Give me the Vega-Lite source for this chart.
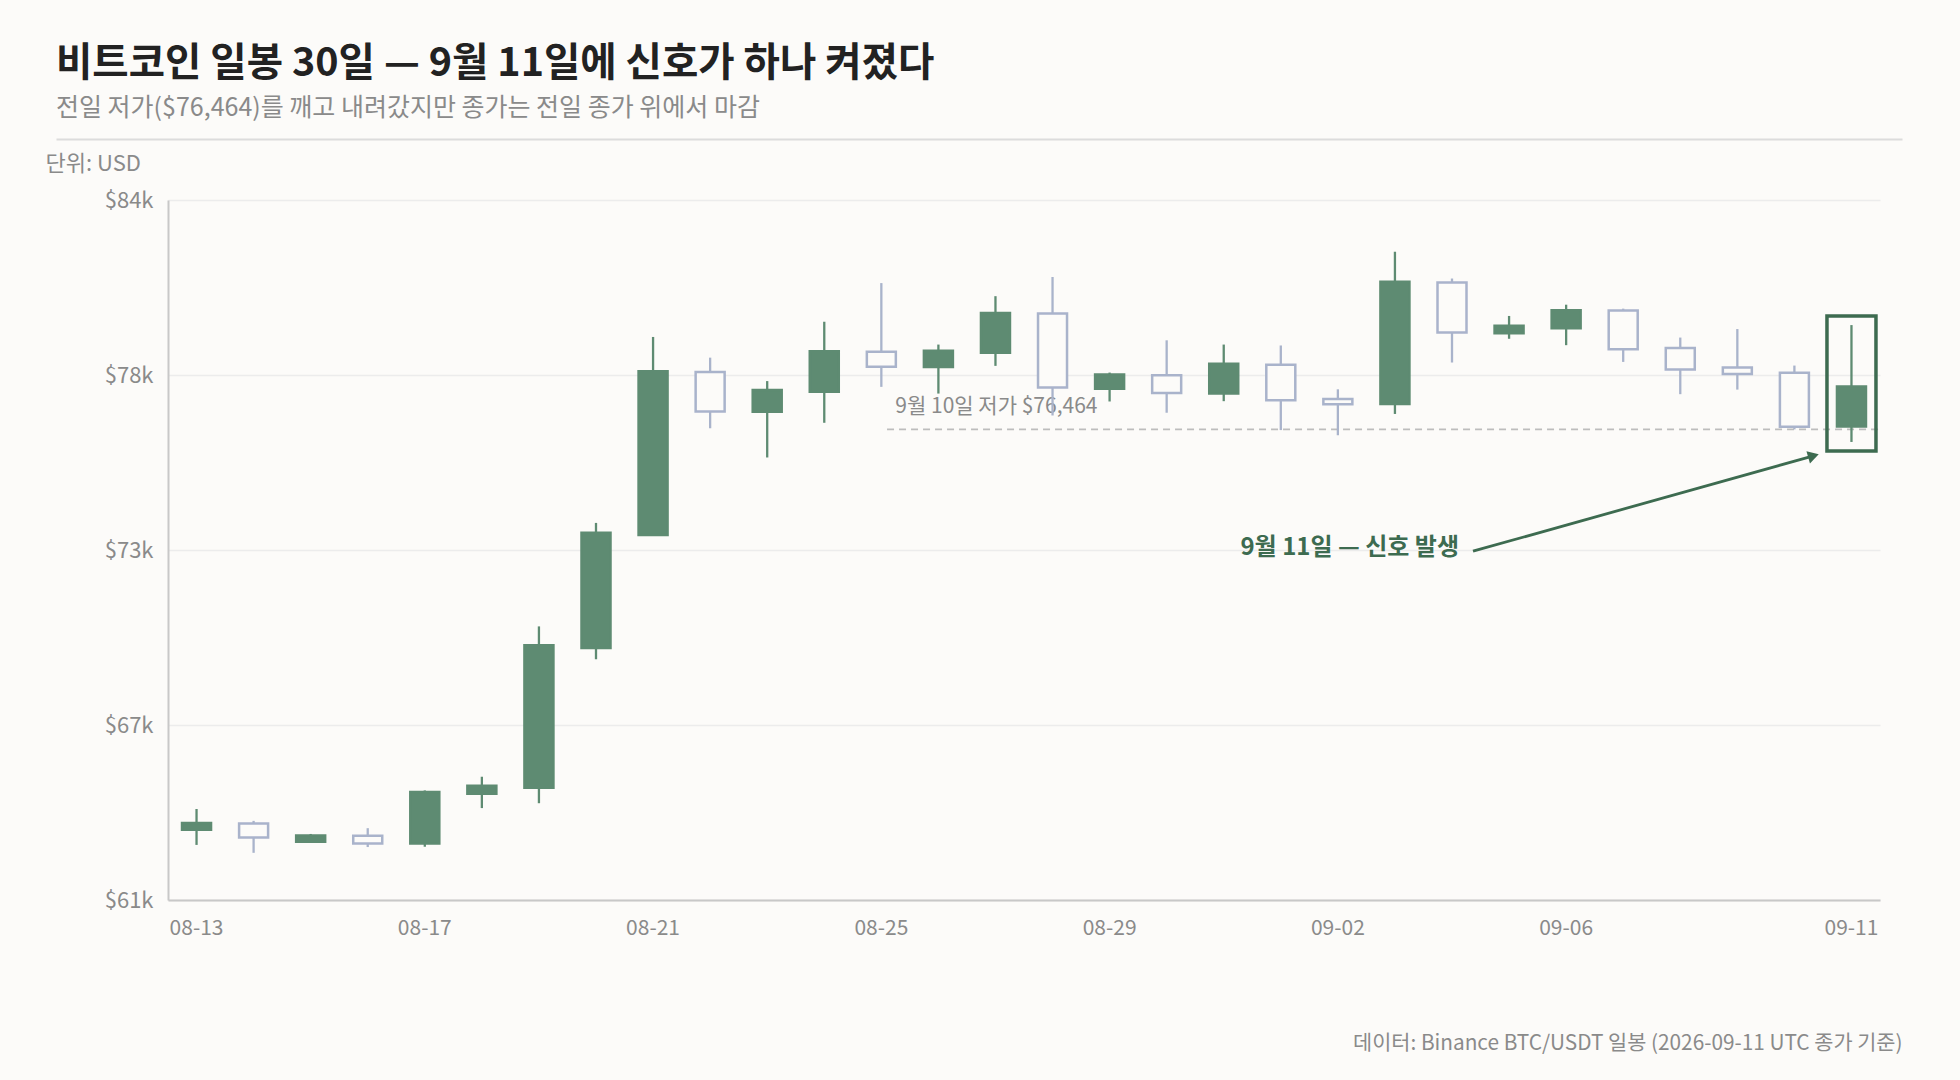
{
  "$schema": "https://vega.github.io/schema/vega-lite/v6.json",
  "background": "#fcfbf9",
  "autosize": {"type": "none"},
  "padding": {"left": 168, "top": 200, "right": 80, "bottom": 180},
  "width": 1712,
  "height": 700,
  "title": {
    "text": "비트코인 일봉 30일 — 9월 11일에 신호가 하나 켜졌다",
    "subtitle": "전일 저가($76,464)를 깨고 내려갔지만 종가는 전일 종가 위에서 마감",
    "anchor": "start",
    "frame": "group",
    "dx": -112,
    "offset": 17,
    "fontSize": 39.5,
    "fontWeight": "bold",
    "color": "#222222",
    "subtitleFontSize": 25,
    "subtitleColor": "#8a8a8a",
    "subtitlePadding": 11.75
  },
  "datasets": {
    "candles": [
      {"date": "08-13", "open": 63310, "high": 63990, "low": 62810, "close": 63530},
      {"date": "08-14", "open": 63510, "high": 63600, "low": 62550, "close": 63050},
      {"date": "08-15", "open": 62910, "high": 63170, "low": 62890, "close": 63120},
      {"date": "08-16", "open": 63110, "high": 63360, "low": 62740, "close": 62860},
      {"date": "08-17", "open": 62860, "high": 64600, "low": 62750, "close": 64550},
      {"date": "08-18", "open": 64490, "high": 65050, "low": 64020, "close": 64750},
      {"date": "08-19", "open": 64690, "high": 69990, "low": 64180, "close": 69370},
      {"date": "08-20", "open": 69280, "high": 73390, "low": 68910, "close": 73070},
      {"date": "08-21", "open": 72990, "high": 79500, "low": 72960, "close": 78370},
      {"date": "08-22", "open": 78350, "high": 78820, "low": 76500, "close": 77050},
      {"date": "08-23", "open": 77040, "high": 78050, "low": 75540, "close": 77760},
      {"date": "08-24", "open": 77700, "high": 80000, "low": 76680, "close": 79030},
      {"date": "08-25", "open": 79010, "high": 81270, "low": 77860, "close": 78520},
      {"date": "08-26", "open": 78510, "high": 79250, "low": 77640, "close": 79050},
      {"date": "08-27", "open": 78980, "high": 80840, "low": 78550, "close": 80290},
      {"date": "08-28", "open": 80270, "high": 81470, "low": 76920, "close": 77840},
      {"date": "08-29", "open": 77800, "high": 78330, "low": 77380, "close": 78270},
      {"date": "08-30", "open": 78240, "high": 79390, "low": 77010, "close": 77660},
      {"date": "08-31", "open": 77640, "high": 79250, "low": 77390, "close": 78620},
      {"date": "09-01", "open": 78590, "high": 79220, "low": 76440, "close": 77420},
      {"date": "09-02", "open": 77460, "high": 77780, "low": 76270, "close": 77290},
      {"date": "09-03", "open": 77300, "high": 82300, "low": 76970, "close": 81310},
      {"date": "09-04", "open": 81290, "high": 81420, "low": 78660, "close": 79650},
      {"date": "09-05", "open": 79620, "high": 80190, "low": 79440, "close": 79870},
      {"date": "09-06", "open": 79790, "high": 80560, "low": 79230, "close": 80380},
      {"date": "09-07", "open": 80370, "high": 80430, "low": 78680, "close": 79100},
      {"date": "09-08", "open": 79140, "high": 79480, "low": 77620, "close": 78430},
      {"date": "09-09", "open": 78500, "high": 79760, "low": 77770, "close": 78280},
      {"date": "09-10", "open": 78320, "high": 78560, "low": 76464, "close": 76550},
      {"date": "09-11", "open": 76560, "high": 79890, "low": 76050, "close": 77870}
    ],
    "prevlow": [
      {"date": "08-25", "end": "09-11", "price": 76464, "label": "9월 10일 저가 $76,464"}
    ],
    "signal": [
      {"date": "09-11", "top": 80190, "bottom": 75750}
    ],
    "arrow": [
      {"date": "09-04", "date_end": "09-11", "price": 72460, "price_end": 75594, "text_price": 72560, "label": "9월 11일 — 신호 발생"}
    ]
  },
  "layer": [
    {
      "encoding": {
        "x": {
          "field": "date",
          "type": "ordinal",
          "title": "데이터: Binance BTC/USDT 일봉 (2026-09-11 UTC 종가 기준)",
          "scale": {"paddingInner": 0, "paddingOuter": 0},
          "axis": {"orient": "bottom", "values": ["08-13", "08-17", "08-21", "08-25", "08-29", "09-02", "09-06", "09-11"]}
        }
      },
      "layer": [
        {
          "data": {"name": "prevlow"},
          "mark": {"type": "rule", "stroke": "#bdbdbd", "strokeWidth": 1.6, "strokeDash": [7, 5]},
          "encoding": {
            "x": {"field": "date", "type": "ordinal", "bandPosition": 0.6, "title": "데이터: Binance BTC/USDT 일봉 (2026-09-11 UTC 종가 기준)"},
            "x2": {"field": "end", "bandPosition": 1},
            "y": {"field": "price", "type": "quantitative", "title": "단위: USD", "scale": {"domain": [61000, 84000], "nice": false, "zero": false}}
          }
        },
        {
          "data": {"name": "prevlow"},
          "mark": {"type": "text", "align": "left", "baseline": "middle", "dx": 14, "dy": -22, "fontSize": 21, "fill": "#8a8a8a"},
          "encoding": {
            "y": {"field": "price", "type": "quantitative", "title": "단위: USD", "scale": {"domain": [61000, 84000], "nice": false, "zero": false}},
            "text": {"field": "label"}
          }
        },
        {
          "data": {"name": "candles"},
          "mark": {"type": "rule", "strokeWidth": 2.3},
          "encoding": {
            "y": {
              "field": "low",
              "type": "quantitative",
              "title": "단위: USD",
              "scale": {"domain": [61000, 84000], "nice": false, "zero": false},
              "axis": {"values": [61000, 66750, 72500, 78250, 84000], "format": "$.2s", "labelFontSize": 22}
            },
            "y2": {"field": "high"},
            "stroke": {"condition": {"test": "datum.close >= datum.open", "value": "#5e8b72"}, "value": "#a9b3cb"}
          }
        },
        {
          "data": {"name": "candles"},
          "mark": {"type": "bar", "size": 29, "strokeWidth": 2.5},
          "encoding": {
            "y": {"field": "open", "type": "quantitative", "title": "단위: USD", "scale": {"domain": [61000, 84000], "nice": false, "zero": false}},
            "y2": {"field": "close"},
            "fill": {"condition": {"test": "datum.close >= datum.open", "value": "#5e8b72"}, "value": "#fcfbf9"},
            "stroke": {"condition": {"test": "datum.close >= datum.open", "value": "#5e8b72"}, "value": "#a9b3cb"}
          }
        },
        {
          "data": {"name": "signal"},
          "mark": {"type": "bar", "size": 49, "fill": "#fcfbf9", "fillOpacity": 0, "stroke": "#3d6b50", "strokeWidth": 3.5},
          "encoding": {
            "y": {"field": "top", "type": "quantitative", "title": "단위: USD", "scale": {"domain": [61000, 84000], "nice": false, "zero": false}},
            "y2": {"field": "bottom"}
          }
        },
        {
          "data": {"name": "arrow"},
          "mark": {"type": "rule", "stroke": "#3d6b50", "strokeWidth": 2.8, "xOffset": 21, "x2Offset": -38},
          "encoding": {
            "x2": {"field": "date_end"},
            "y": {"field": "price", "type": "quantitative", "title": "단위: USD", "scale": {"domain": [61000, 84000], "nice": false, "zero": false}},
            "y2": {"field": "price_end"}
          }
        },
        {
          "data": {"name": "arrow"},
          "mark": {"type": "point", "shape": "triangle-right", "filled": true, "size": 160, "angle": 344, "xOffset": -38, "color": "#3d6b50", "opacity": 1},
          "encoding": {
            "x": {"field": "date_end", "type": "ordinal", "title": "데이터: Binance BTC/USDT 일봉 (2026-09-11 UTC 종가 기준)"},
            "y": {"field": "price_end", "type": "quantitative", "title": "단위: USD", "scale": {"domain": [61000, 84000], "nice": false, "zero": false}}
          }
        },
        {
          "data": {"name": "arrow"},
          "mark": {"type": "text", "align": "right", "baseline": "middle", "dx": 7, "fontSize": 24, "fontWeight": "bold", "fill": "#3d6b50"},
          "encoding": {
            "y": {"field": "text_price", "type": "quantitative", "title": "단위: USD", "scale": {"domain": [61000, 84000], "nice": false, "zero": false}},
            "text": {"field": "label"}
          }
        }
      ]
    },
    {
      "data": {"values": []},
      "mark": {"type": "point"},
      "encoding": {
        "x": {
          "field": "u",
          "type": "quantitative",
          "scale": {"domain": [0, 1], "range": [-112, 1734]},
          "axis": {"orient": "top", "offset": 61, "labels": false, "ticks": false, "grid": false, "title": null, "domainColor": "#dcdcdc", "domainWidth": 2}
        }
      }
    }
  ],
  "resolve": {"scale": {"x": "independent"}, "axis": {"x": "independent"}},
  "config": {
    "font": "Noto Sans CJK KR",
    "view": {"stroke": null},
    "axis": {
      "labelColor": "#8a8a8a",
      "labelFontSize": 21,
      "domainColor": "#c8c8c8",
      "domainWidth": 2,
      "ticks": false,
      "gridColor": "#ececec",
      "gridWidth": 1.5,
      "titleFontWeight": "normal",
      "titleColor": "#8a8a8a"
    },
    "axisX": {
      "grid": false,
      "labelAngle": 0,
      "labelPadding": 17,
      "titleX": 1734,
      "titleY": 143,
      "titleAlign": "right",
      "titleBaseline": "middle",
      "titleFontSize": 20.8
    },
    "axisY": {
      "grid": true,
      "labelPadding": 15,
      "titleAngle": 0,
      "titleX": -123,
      "titleY": -37,
      "titleAlign": "left",
      "titleBaseline": "middle",
      "titleFontSize": 22
    }
  }
}
